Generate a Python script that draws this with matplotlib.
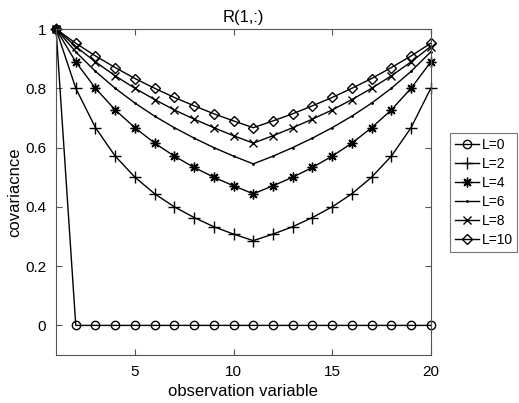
import matplotlib
matplotlib.use("Agg")
import matplotlib.pyplot as plt

x = list(range(1, 21))
L0 = [1.0] + [0.0] * 19
L2 = [1.0, 0.800, 0.667, 0.571, 0.500, 0.444, 0.400, 0.364, 0.333, 0.308, 0.286,
      0.308, 0.333, 0.364, 0.400, 0.444, 0.500, 0.571, 0.667, 0.800]
L4 = [1.0, 0.889, 0.800, 0.727, 0.667, 0.615, 0.571, 0.533, 0.500, 0.471, 0.444,
      0.471, 0.500, 0.533, 0.571, 0.615, 0.667, 0.727, 0.800, 0.889]
L6 = [1.0, 0.923, 0.857, 0.800, 0.750, 0.706, 0.667, 0.632, 0.600, 0.571, 0.545,
      0.571, 0.600, 0.632, 0.667, 0.706, 0.750, 0.800, 0.857, 0.923]
L8 = [1.0, 0.941, 0.889, 0.842, 0.800, 0.762, 0.727, 0.696, 0.667, 0.640, 0.615,
      0.640, 0.667, 0.696, 0.727, 0.762, 0.800, 0.842, 0.889, 0.941]
L10 = [1.0, 0.952, 0.909, 0.870, 0.833, 0.800, 0.769, 0.741, 0.714, 0.690, 0.667,
       0.690, 0.714, 0.741, 0.769, 0.800, 0.833, 0.870, 0.909, 0.952]
labels = ["L=0", "L=2", "L=4", "L=6", "L=8", "L=10"]
series = [L0, L2, L4, L6, L8, L10]
markers = ["o", "+", (8, 2, 0), ".", "x", "D"]
msizes = [6, 8, 7, 2, 6, 5.5]

plt.rcParams['font.family'] = ['Liberation Sans', 'DejaVu Sans']
fig = plt.figure(figsize=(5.19, 4.03), dpi=100)
ax = fig.add_axes([0.108, 0.119, 0.722, 0.809])

for s, m, ms, lab in zip(series, markers, msizes, labels):
    ax.plot(x, s, color='black', linewidth=1.0, marker=m, markersize=ms,
            markerfacecolor='none', markeredgecolor='black', markeredgewidth=1.0,
            label=lab, clip_on=False)

ax.set_xlim(1, 20)
ax.set_ylim(-0.1, 1)
ax.set_xticks([5, 10, 15, 20])
ax.set_yticks([0, 0.2, 0.4, 0.6, 0.8, 1.0])
ax.set_yticklabels(["0", "0.2", "0.4", "0.6", "0.8", "1"])
ax.tick_params(direction='in', top=True, right=True, labelsize=11, length=4,
               color='#555555', width=0.8, pad=7)
for sp in ax.spines.values():
    sp.set_color('#555555')
    sp.set_linewidth(0.8)
ax.set_title("R(1,:)", fontsize=12, pad=5)
ax.set_xlabel("observation variable", fontsize=12, labelpad=4)
ax.set_ylabel("covariacnce", fontsize=12, labelpad=2)

leg = ax.legend(loc='upper left', bbox_to_anchor=(1.052, 0.68), fontsize=10,
                frameon=True, fancybox=False, edgecolor='#555555',
                handlelength=1.7, handletextpad=0.2, borderpad=0.35,
                labelspacing=0.36, borderaxespad=0)
leg.get_frame().set_linewidth(0.8)

fig.savefig("out.png", dpi=100)
